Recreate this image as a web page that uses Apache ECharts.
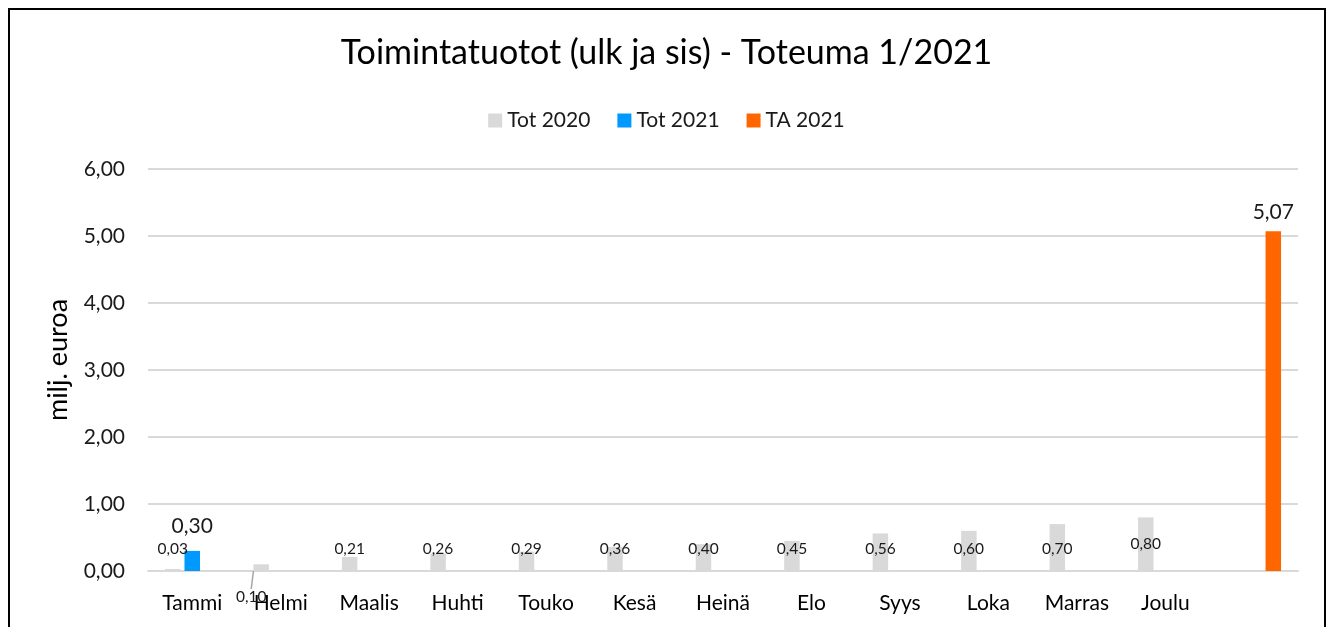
<!DOCTYPE html>
<html><head><meta charset="utf-8">
<script src="https://cdn.jsdelivr.net/npm/echarts@6/dist/echarts.min.js"></script>
<style>html,body{margin:0;padding:0;background:#fff}#c{width:1333px;height:627px}</style>
</head><body><div id="c"></div>
<script>
const categories = ['Tammi','Helmi','Maalis','Huhti','Touko','Kesä','Heinä','Elo','Syys','Loka','Marras','Joulu',''];
const tot2020 = [0.03,0.10,0.21,0.26,0.29,0.36,0.40,0.45,0.56,0.60,0.70,0.80,null];
const tot2021 = [0.30,null,null,null,null,null,null,null,null,null,null,null,null];
const ta2021 = [null,null,null,null,null,null,null,null,null,null,null,null,5.07];
const seriesNames = ['Tot 2020','Tot 2021','TA 2021'];
const chartTitle = 'Toimintatuotot (ulk ja sis) - Toteuma 1/2021';
const yAxisName = 'milj. euroa';

const FONT = 'Lato, "Open Sans", sans-serif';
const fmt = v => Number(v).toFixed(2).replace('.', ',');
const tot2020Data = tot2020.map((v, i) => i === 1
  ? {value: v, labelLine: {show: true, lineStyle: {color: '#a6a6a6', width: 1.5}}}
  : v);
const chart = echarts.init(document.getElementById('c'));
chart.setOption({
  animation: false,
  textStyle: {fontFamily: FONT},
  title: {text: chartTitle, left: 'center', top: 31,
    textStyle: {fontFamily: FONT, fontSize: 34, fontWeight: 'normal', color: '#000'}},
  legend: {top: 105, left: 'center', itemWidth: 14, itemHeight: 14, itemGap: 27,
    icon: 'rect', textStyle: {fontFamily: FONT, fontSize: 21, color: '#1a1a1a'}},
  graphic: [{type: 'rect', shape: {x: 9, y: 9, width: 1316, height: 640},
    style: {fill: 'none', stroke: '#000', lineWidth: 2}, silent: true}],
  grid: {left: 148, right: 35, top: 169, bottom: 56},
  xAxis: {type: 'category', data: categories,
    axisLine: {lineStyle: {color: '#d9d9d9', width: 2}}, axisTick: {show: false},
    axisLabel: {fontFamily: FONT, fontSize: 21, color: '#000', margin: 22, interval: 0}},
  yAxis: {type: 'value', min: 0, max: 6, interval: 1,
    name: yAxisName, nameLocation: 'middle', nameGap: 76, nameRotate: 90,
    nameTextStyle: {fontFamily: FONT, fontSize: 27, color: '#000', padding: [0, 0, 0, 20]},
    axisLine: {show: false}, axisTick: {show: false},
    axisLabel: {formatter: fmt, fontFamily: FONT, fontSize: 21, color: '#1a1a1a', margin: 23},
    splitLine: {lineStyle: {color: '#d9d9d9', width: 2}}},
  series: [
    {name: seriesNames[0], type: 'bar', data: tot2020Data, barWidth: 15.5, barGap: '26%',
      itemStyle: {color: '#d9d9d9'},
      label: {show: true, position: 'insideBottom', distance: 14, formatter: p => fmt(p.value),
        fontFamily: FONT, fontSize: 15.5, color: '#1a1a1a'},
      labelLayout: function (params) {
        if (params.dataIndex === 1) return {dx: -10, dy: 48};
        if (params.dataIndex === 11) return {dy: -5};
        return {};
      }},
    {name: seriesNames[1], type: 'bar', data: tot2021, barWidth: 15.5, barGap: '26%',
      itemStyle: {color: '#0099ff'},
      label: {show: true, position: 'top', distance: 14, formatter: p => fmt(p.value),
        fontFamily: FONT, fontSize: 21, color: '#1a1a1a'}},
    {name: seriesNames[2], type: 'bar', data: ta2021, barWidth: 15.5, barGap: '26%',
      itemStyle: {color: '#ff6600'},
      label: {show: true, position: 'top', distance: 9, formatter: p => fmt(p.value),
        fontFamily: FONT, fontSize: 21, color: '#1a1a1a'}}
  ]
});
</script></body></html>
